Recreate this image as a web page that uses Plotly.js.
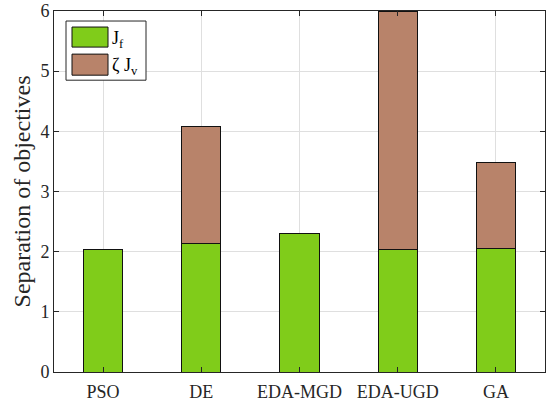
<!DOCTYPE html>
<html>
<head>
<meta charset="utf-8">
<script src="https://cdn.plot.ly/plotly-3.0.1.min.js"></script>
<style>html,body{margin:0;padding:0;background:#fff;}#chart{width:548px;height:401px;}</style>
</head>
<body>
<div id="chart"></div>
<script>
const categories = ["PSO", "DE", "EDA-MGD", "EDA-UGD", "GA"];
const Jf = [2.03, 2.13, 2.31, 2.03, 2.05];
const zetaJv = [0.0, 1.95, 0.0, 3.96, 1.43];
const seriesNames = ["J<sub>f</sub>", "ζ J<sub>v</sub>"];
const yTicks = [0, 1, 2, 3, 4, 5, 6];

const green = "#80cc1a";
const brown = "#b8836a";
const fontFam = "Liberation Serif";
const axisCol = "#262626";

const traces = [
  {type: "bar", x: categories, y: Jf, name: seriesNames[0], width: 0.4,
   marker: {color: green, line: {color: "#111", width: 1}}},
  {type: "bar", x: categories, y: zetaJv, name: seriesNames[1], width: 0.4,
   marker: {color: brown, line: {color: "#111", width: 1}}}
];

// legend drawn in paper coords
function px2x(p){ return (p - 54) / 491; }
function px2y(p){ return (372 - p) / 360; }
const shapes = [
  {type: "rect", xref: "paper", yref: "paper", x0: px2x(66), x1: px2x(146), y0: px2y(81), y1: px2y(22),
   line: {color: "#262626", width: 1}, fillcolor: "#fff", layer: "above"},
  {type: "rect", xref: "paper", yref: "paper", x0: px2x(72), x1: px2x(108), y0: px2y(48), y1: px2y(28),
   line: {color: "#111", width: 1}, fillcolor: green, layer: "above"},
  {type: "rect", xref: "paper", yref: "paper", x0: px2x(72), x1: px2x(108), y0: px2y(76), y1: px2y(55),
   line: {color: "#111", width: 1}, fillcolor: brown, layer: "above"}
];
const annotations = [
  {xref: "paper", yref: "paper", x: px2x(110), y: px2y(40), xanchor: "left", yanchor: "middle",
   text: seriesNames[0], showarrow: false, font: {family: fontFam, size: 18, color: "#000"}},
  {xref: "paper", yref: "paper", x: px2x(110), y: px2y(67), xanchor: "left", yanchor: "middle",
   text: seriesNames[1], showarrow: false, font: {family: fontFam, size: 18, color: "#000"}}
];

const layout = {
  width: 548, height: 401,
  margin: {l: 54, r: 3, t: 11, b: 29},
  barmode: "stack",
  showlegend: false,
  paper_bgcolor: "#fff", plot_bgcolor: "#fff",
  font: {family: fontFam, size: 16, color: axisCol},
  xaxis: {
    type: "category", range: [-0.5, 4.5],
    showgrid: true, gridcolor: "#dfdfdf", gridwidth: 1,
    showline: true, linecolor: axisCol, linewidth: 1, mirror: "ticks",
    ticks: "inside", ticklen: 5, tickcolor: axisCol,
    tickfont: {family: fontFam, size: 18, color: axisCol},
    ticklabelstandoff: 3,
    zeroline: false, fixedrange: true
  },
  yaxis: {
    range: [0, 6], tickvals: yTicks, ticktext: yTicks.map(String),
    showgrid: true, gridcolor: "#dfdfdf", gridwidth: 1,
    showline: true, linecolor: axisCol, linewidth: 1, mirror: "ticks",
    ticks: "inside", ticklen: 5, tickcolor: axisCol,
    tickfont: {family: fontFam, size: 18, color: axisCol},
    zeroline: false, automargin: false,
    title: {text: "Separation of objectives", font: {family: fontFam, size: 24, color: axisCol}, standoff: 3}
  },
  shapes: shapes,
  annotations: annotations
};

Plotly.newPlot("chart", traces, layout, {displayModeBar: false, staticPlot: true});
</script>
</body>
</html>
